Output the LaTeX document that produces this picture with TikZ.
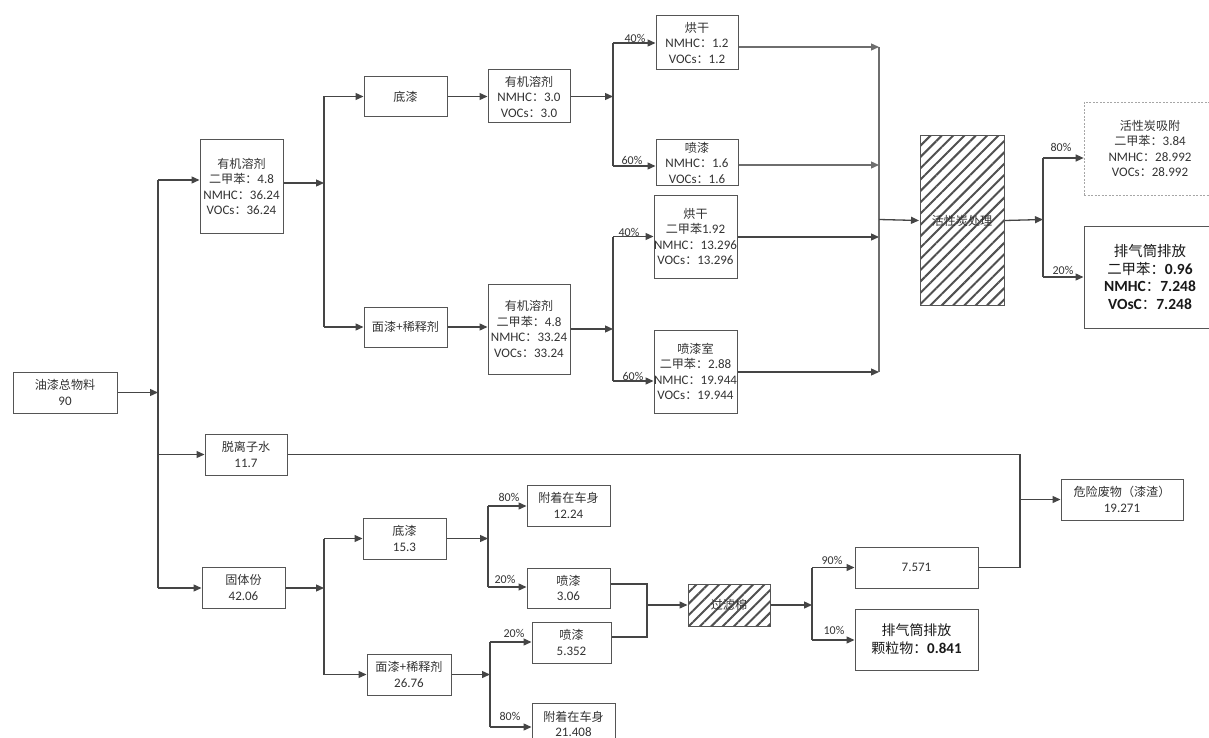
\documentclass[tikz,border=0pt]{standalone}
\usepackage{fontspec}
\setmainfont{Carlito}
\newfontfamily\cjk[Scale=0.93]{Noto Sans CJK SC}
\usetikzlibrary{arrows.meta,patterns.meta}
\definecolor{lc}{HTML}{454545}
\definecolor{lcl}{HTML}{6E6E6E}
\definecolor{bc}{HTML}{555555}
\definecolor{tc}{HTML}{333333}
\definecolor{hc}{HTML}{505050}
\newcommand\zh[1]{{\cjk #1}}
\begin{document}
\begin{tikzpicture}[x=1pt,y=-1pt,
  box/.style={draw=bc, line width=1pt, fill=white, align=center, inner sep=0pt, text=tc,
    font=\fontsize{13}{15.5}\selectfont},
  hatchbox/.style={draw=bc, line width=1pt, align=center, inner sep=0pt, text=tc,
    font=\fontsize{13}{15.5}\selectfont,
    pattern={Lines[angle=45,distance=8pt,line width=2pt]}, pattern color=hc},
  dashbox/.style={box, draw=black!35, line width=0.7pt, dash pattern=on 2pt off 1.5pt},
  bigbox/.style={box, text=black!90},
  ln/.style={draw=lc, line width=1.3pt},
  arr/.style={draw=lc, line width=1.3pt, -{Triangle[length=8pt,width=7pt]}},
  arrl/.style={arr, draw=lcl},
  pct/.style={font=\fontsize{12}{12}\selectfont, text=tc, inner sep=0pt}
]
\useasboundingbox (0,0) rectangle (1209,738);
\clip (0,0) rectangle (1209,738);

% ---------- nodes ----------
\node[box, minimum width=104pt, minimum height=41pt] (total) at (65,392.5) {\zh{油漆总物料}\\90};
\node[box, minimum width=83pt, minimum height=93pt] (org1) at (241.5,186.5)
  {\zh{有机溶剂}\\\zh{二甲苯：}4.8\\NMHC\zh{：}36.24\\VOCs\zh{：}36.24};
\node[box, minimum width=83pt, minimum height=40pt] (base1) at (405.5,96.5) {\zh{底漆}};
\node[box, minimum width=82pt, minimum height=53pt] (org2) at (529,96.5)
  {\zh{有机溶剂}\\NMHC\zh{：}3.0\\VOCs\zh{：}3.0};
\node[box, minimum width=82pt, minimum height=54pt] (dry1) at (697,43)
  {\zh{烘干}\\NMHC\zh{：}1.2\\VOCs\zh{：}1.2};
\node[box, minimum width=82pt, minimum height=46pt] (spray1) at (697,162.5)
  {\zh{喷漆}\\NMHC\zh{：}1.6\\VOCs\zh{：}1.6};
\node[box, minimum width=83pt, minimum height=40pt] (top1) at (405.5,327) {\zh{面漆+稀释剂}};
\node[box, minimum width=82pt, minimum height=90pt] (org3) at (529,329)
  {\zh{有机溶剂}\\\zh{二甲苯：}4.8\\NMHC\zh{：}33.24\\VOCs\zh{：}33.24};
\node[box, minimum width=83pt, minimum height=83pt] (dry2) at (695.5,236.5)
  {\zh{烘干}\\\zh{二甲苯}1.92\\NMHC\zh{：}13.296\\VOCs\zh{：}13.296};
\node[box, minimum width=83pt, minimum height=83pt] (booth) at (695.5,371.5)
  {\zh{喷漆室}\\\zh{二甲苯：}2.88\\NMHC\zh{：}19.944\\VOCs\zh{：}19.944};
\node[hatchbox, minimum width=84pt, minimum height=169pt] (carbon) at (962,220.5) {\zh{活性炭处理}};
\node[dashbox, minimum width=132pt, minimum height=93pt] (adsorb) at (1150,148.5)
  {\zh{活性炭吸附}\\\zh{二甲苯：}3.84\\NMHC\zh{：}28.992\\VOCs\zh{：}28.992};
\node[bigbox, minimum width=132pt, minimum height=102pt, font=\fontsize{15.5}{17.5}\selectfont] (stack1) at (1150,277)
  {\zh{排气筒排放}\\\zh{二甲苯：}\textbf{0.96}\\\textbf{NMHC}\zh{：}\textbf{7.248}\\\textbf{VOsC}\zh{：}\textbf{7.248}};

\node[box, minimum width=82pt, minimum height=41pt] (water) at (246,454.5) {\zh{脱离子水}\\11.7};
\node[box, minimum width=83pt, minimum height=41pt] (solid) at (243.5,587.5) {\zh{固体份}\\42.06};
\node[box, minimum width=83pt, minimum height=41pt] (base2) at (404.5,538.5) {\zh{底漆}\\15.3};
\node[box, minimum width=83pt, minimum height=41pt] (attach1) at (568.5,505.5) {\zh{附着在车身}\\12.24};
\node[box, minimum width=83pt, minimum height=40pt] (spray2) at (568.5,588) {\zh{喷漆}\\3.06};
\node[box, minimum width=79pt, minimum height=41pt] (spray3) at (571.5,642.5) {\zh{喷漆}\\5.352};
\node[box, minimum width=84pt, minimum height=41pt] (top2) at (409,674.5) {\zh{面漆+稀释剂}\\26.76};
\node[box, minimum width=83pt, minimum height=42pt] (attach2) at (573.5,724) {\zh{附着在车身}\\21.408};
\node[hatchbox, minimum width=82pt, minimum height=42pt] (filter) at (729,605) {\zh{过滤棉}};
\node[box, minimum width=123pt, minimum height=41pt] (res) at (916.5,567.5) {7.571};
\node[bigbox, minimum width=123pt, minimum height=61pt, font=\fontsize{15}{18}\selectfont] (stack2) at (916.5,639.5)
  {\zh{排气筒排放}\\\zh{颗粒物：}\textbf{0.841}};
\node[box, minimum width=122pt, minimum height=41pt] (waste) at (1122,499.5) {\zh{危险废物（漆渣）}\\19.271};

% ---------- junction coordinates ----------
\coordinate (j0) at (158,392.5);
\coordinate (b1) at (158,180);
\coordinate (b2) at (158,454.5);
\coordinate (b3) at (158,588);
\coordinate (j1) at (324,183);
\coordinate (c1) at (324,96.5);
\coordinate (c2) at (324,327);
\coordinate (j2) at (613,96.5);
\coordinate (d1) at (613,43);
\coordinate (d2) at (613,166);
\coordinate (j3) at (613,329);
\coordinate (e1) at (613,236.5);
\coordinate (e2) at (613,381);
\coordinate (f1) at (879,47);
\coordinate (f2) at (879,165);
\coordinate (f3) at (879,237);
\coordinate (f4) at (879,372);
\coordinate (f5) at (879,219.5);
\coordinate (g0) at (1043,219.5);
\coordinate (g1) at (1043,158);
\coordinate (g2) at (1043,277);
\coordinate (h1) at (1020,454.5);
\coordinate (h2) at (1020,499.5);
\coordinate (h3) at (1020,567.5);
\coordinate (k0) at (324,588);
\coordinate (k1) at (324,538.5);
\coordinate (k2) at (324,674.5);
\coordinate (m0) at (488,538.5);
\coordinate (m1) at (488,506);
\coordinate (m2) at (488,587);
\coordinate (n0) at (490,674.5);
\coordinate (n1) at (490,642);
\coordinate (n2) at (490,727);
\coordinate (p1) at (647,584);
\coordinate (p2) at (647,637);
\coordinate (p0) at (647,605);
\coordinate (q0) at (812,605);
\coordinate (q1) at (812,567.5);
\coordinate (q2) at (812,640);

% ---------- connectors: upper (VOC) branch ----------
\draw[arr] (total.east) -- (j0);
\draw[ln] (b1) -- (b3);
\draw[arr] (b1) -- (b1 -| org1.west);
\draw[arr] (b2) -- (water.west);
\draw[arr] (b3) -- (b3 -| solid.west);

\draw[arr] (org1.east |- j1) -- (j1);
\draw[ln] (c1) -- (c2);
\draw[arr] (c1) -- (base1.west);
\draw[arr] (c2) -- (top1.west);
\draw[arr] (base1.east) -- (org2.west);
\draw[arr] (top1.east) -- (top1.east -| org3.west);

\draw[arr] (org2.east) -- (j2);
\draw[ln] (d1) -- (d2);
\draw[arr] (d1) -- (dry1.west);
\draw[arr] (d2) -- (d2 -| spray1.west);
\draw[arr] (org3.east) -- (j3);
\draw[ln] (e1) -- (e2);
\draw[arr] (e1) -- (dry2.west);
\draw[arr] (e2) -- (e2 -| booth.west);

\draw[arrl] (dry1.east |- f1) -- (f1);
\draw[arrl] (spray1.east |- f2) -- (f2);
\draw[arr] (dry2.east |- f3) -- (f3);
\draw[arr] (booth.east |- f4) -- (f4);
\draw[ln, draw=lcl] (f1) -- (f4);
\draw[arr] (f5) -- (carbon.west);
\draw[arr] (carbon.east) -- (g0);
\draw[ln] (g1) -- (g2);
\draw[arr] (g1) -- (g1 -| adsorb.west);
\draw[arr] (g2) -- (stack1.west);

% ---------- connectors: lower (solids) branch ----------
\draw[ln] (water.east) -- (h1) -- (h3) -- (res.east);
\draw[arr] (h2) -- (waste.west);

\draw[arr] (solid.east |- k0) -- (k0);
\draw[ln] (k1) -- (k2);
\draw[arr] (k1) -- (base2.west);
\draw[arr] (k2) -- (top2.west);
\draw[arr] (base2.east) -- (m0);
\draw[ln] (m1) -- (m2);
\draw[arr] (m1) -- (m1 -| attach1.west);
\draw[arr] (m2) -- (m2 -| spray2.west);
\draw[arr] (top2.east) -- (n0);
\draw[ln] (n1) -- (n2);
\draw[arr] (n1) -- (n1 -| spray3.west);
\draw[arr] (n2) -- (n2 -| attach2.west);

\draw[ln] (spray2.east |- p1) -- (p1) -- (p2) -- (spray3.east |- p2);
\draw[arr] (p0) -- (filter.west);
\draw[arr] (filter.east) -- (q0);
\draw[ln] (q1) -- (q2);
\draw[arr] (q1) -- (res.west);
\draw[arr] (q2) -- (q2 -| stack2.west);

% ---------- percentage labels ----------
\node[pct] (l1) at (635,38) {40\%};
\node[pct] (l2) at (632,160) {60\%};
\node[pct] (l3) at (629,232) {40\%};
\node[pct] (l4) at (633,376) {60\%};
\node[pct] (l5) at (1061,147) {80\%};
\node[pct] (l6) at (1063,270) {20\%};
\node[pct] (l7) at (509,497) {80\%};
\node[pct] (l8) at (505,579) {20\%};
\node[pct] (l9) at (514,633) {20\%};
\node[pct] (l10) at (510,716) {80\%};
\node[pct] (l11) at (832,560) {90\%};
\node[pct] (l12) at (834,630) {10\%};
\end{tikzpicture}
\end{document}
